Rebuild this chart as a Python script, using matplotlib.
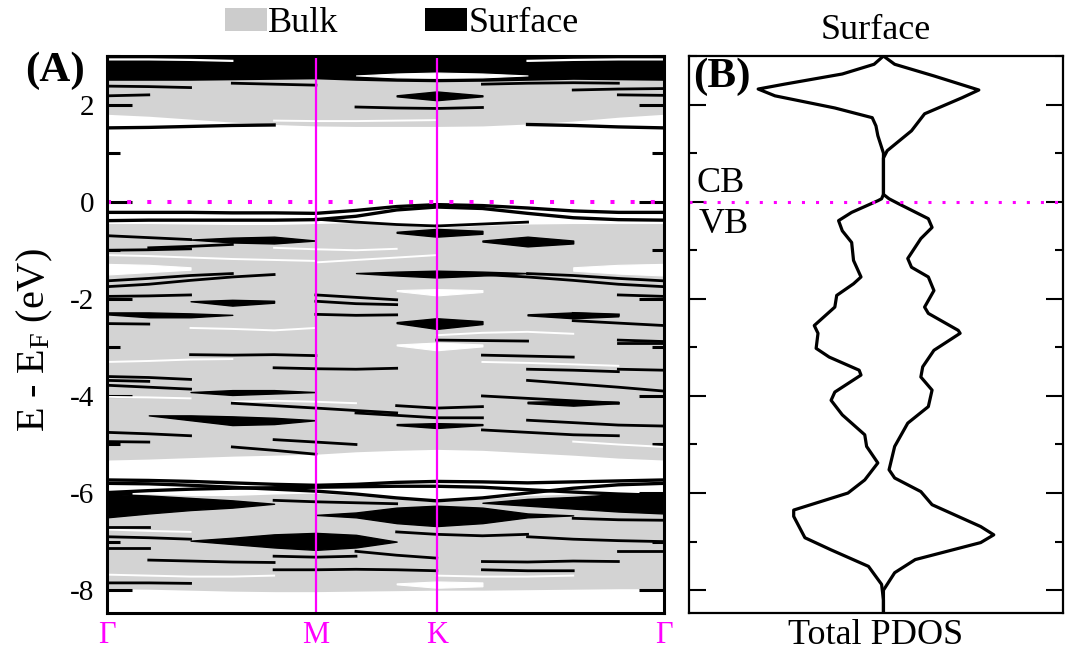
import numpy as np
import matplotlib
matplotlib.use('Agg')
import matplotlib.pyplot as plt
from matplotlib.patches import Patch
from matplotlib.ticker import MultipleLocator

plt.rcParams['font.family'] = ['Liberation Serif', 'DejaVu Serif']
plt.rcParams['mathtext.default'] = 'regular'

MAGENTA = '#ff00ff'
BULK_GRAY = '#d3d3d3'

# ---- band structure data (energies in eV) ----
# k positions of the sampled nodes along G-M-K-G (path scaled to 0..1)
k_nodes = [0.0, 0.075, 0.15, 0.225, 0.30, 0.375, 0.447, 0.52, 0.592, 0.674, 0.755, 0.837, 0.918, 1.0]
kpoint_pos = [0.0, 0.375, 0.592, 1.0]
kpoint_labels = ['Γ', 'M', 'K', 'Γ']

# bulk projected bands (gray areas)
bulk_cb_lo = [1.80, 1.76, 1.70, 1.64, 1.59, 1.56, 1.55, 1.55, 1.55, 1.56, 1.60, 1.66, 1.74, 1.80]
bulk_cb_hi = [3.1, 3.1, 3.1, 3.1, 3.1, 3.1, 3.1, 3.1, 3.1, 3.1, 3.1, 3.1, 3.1, 3.1]
bulk_vb_hi = [-0.45, -0.45, -0.46, -0.47, -0.47, -0.45, -0.43, -0.47, -0.53, -0.49, -0.46, -0.45, -0.45, -0.45]
bulk_vb_lo = [-5.32, -5.30, -5.27, -5.24, -5.22, -5.20, -5.15, -5.12, -5.10, -5.12, -5.17, -5.22, -5.28, -5.32]
bulk_deep_hi = [-6.00, -6.02, -6.05, -6.05, -6.02, -6.00, -6.05, -6.12, -6.18, -6.12, -6.05, -6.02, -6.00, -6.00]
bulk_deep_lo = [-7.97, -7.98, -8.00, -8.02, -8.03, -8.03, -8.02, -8.01, -8.00, -8.00, -7.99, -7.98, -7.97, -7.97]

# dense surface states at the top of the window
surf_top_lo = [2.50, 2.50, 2.50, 2.51, 2.52, 2.53, 2.50, 2.48, 2.47, 2.48, 2.50, 2.52, 2.51, 2.50]

# full-path surface bands
surf_cb_state = [1.52, 1.53, 1.55, 1.57, 1.58, np.nan, np.nan, np.nan, np.nan, np.nan, 1.59, 1.57, 1.54, 1.52]
surf_vb_1 = [-0.22, -0.22, -0.22, -0.23, -0.23, -0.24, -0.18, -0.10, -0.06, -0.08, -0.13, -0.19, -0.22, -0.22]
surf_vb_2 = [-0.39, -0.38, -0.38, -0.38, -0.38, -0.37, -0.30, -0.17, -0.11, -0.14, -0.24, -0.33, -0.37, -0.38]
surf_deep_1 = [-5.73, -5.74, -5.76, -5.79, -5.82, -5.84, -5.82, -5.78, -5.76, -5.77, -5.79, -5.77, -5.75, -5.73]
surf_deep_2 = [-5.99, -5.95, -5.92, -5.90, -5.89, -5.88, -5.87, -5.86, -5.86, -5.88, -5.93, -5.98, -6.02, -6.05]
surf_deep_3 = [-5.80, -5.81, -5.84, -5.88, -5.92, -5.96, -6.02, -6.10, -6.16, -6.10, -6.00, -5.90, -5.83, -5.80]

# short surface-band pieces: (first node, energies)
surf_pieces = [
    (0, [2.38, 2.37, 2.35]), (0, [2.18, 2.20]), (11, [2.30, 2.32, 2.33]), (12, [2.20, 2.19]),
    (3, [2.44, 2.42, 2.40]), (9, [2.42, 2.44, 2.45, 2.44]), (6, [1.95, 1.93, 1.92, 1.94]),
    (5, [-0.36, -0.42, -0.47, -0.50]), (8, [-0.50, -0.46, -0.42]),
    (0, [-0.70, -0.74, -0.78]), (0, [-1.00, -0.99, -0.97]), (1, [-0.95, -0.92, -0.88]),
    (0, [-1.63, -1.58, -1.52, -1.48]), (0, [-1.75, -1.70, -1.62, -1.55, -1.50]),
    (10, [-1.48, -1.52, -1.58, -1.63]), (9, [-1.50, -1.55, -1.62, -1.70, -1.75]),
    (0, [-1.95, -1.94, -1.92]), (12, [-1.92, -1.95]), (5, [-1.92, -1.97, -2.02]),
    (5, [-2.05, -2.10, -2.12]), (5, [-2.32, -2.34, -2.33]), (11, [-2.30, -2.33]), (0, [-2.51, -2.52]),
    (8, [-2.85, -2.86, -2.87]), (12, [-2.85, -2.88]),
    (2, [-3.15, -3.16, -3.15, -3.17]), (9, [-3.16, -3.18, -3.20]),
    (4, [-3.42, -3.44, -3.45, -3.43]), (10, [-3.45, -3.47, -3.50]), (12, [-3.45, -3.47]),
    (11, [-2.45, -2.50, -2.55]), (12, [-2.92, -2.92]),
    (0, [-3.60, -3.62, -3.66]), (0, [-3.68, -3.70]), (0, [-3.78, -3.82, -3.86]),
    (3, [-4.15, -4.20, -4.25, -4.30, -4.35]), (6, [-4.35, -4.40, -4.45, -4.45]), (7, [-4.20, -4.25, -4.22]),
    (9, [-4.00, -4.05, -4.10, -4.15]), (10, [-4.50, -4.55, -4.60, -4.62]),
    (0, [-4.75, -4.78, -4.82]), (4, [-4.90, -4.95, -5.00]),
    (10, [-3.68, -3.75, -3.82, -3.90]),
    (9, [-4.70, -4.75, -4.80, -4.82]), (0, [-4.94, -4.95]), (3, [-5.05, -5.12, -5.20]),
    (4, [-6.15, -6.18, -6.20, -6.22]), (7, [-6.80, -6.85, -6.88, -6.85]), (10, [-6.90, -6.95, -6.98, -7.00]),
    (0, [-6.90, -6.92, -6.95]), (4, [-7.30, -7.32, -7.30]), (0, [-7.85, -7.85, -7.86]),
    (11, [-6.52, -6.55, -6.56]), (0, [-6.70, -6.70]), (0, [-7.13, -7.13]), (12, [-7.20, -7.20]),
    (1, [-7.38, -7.40, -7.42, -7.43]), (6, [-7.20, -7.28, -7.34]),
    (9, [-7.41, -7.42, -7.40, -7.41]), (4, [-7.58, -7.58, -7.57, -7.58, -7.60]),
    (9, [-7.58, -7.60, -7.60]),
]

# dense surface-state patches: (first node, lower edge, upper edge)
surf_patches = [
    (7, [2.17, 2.09, 2.17], [2.19, 2.27, 2.19]),
    (7, [-0.64, -0.72, -0.66], [-0.62, -0.56, -0.60]),
    (2, [-0.78, -0.84, -0.86, -0.80], [-0.78, -0.74, -0.72, -0.80]),
    (9, [-0.82, -0.92, -0.86], [-0.80, -0.72, -0.80]),
    (6, [-1.47, -1.52, -1.56, -1.52, -1.47], [-1.47, -1.44, -1.42, -1.44, -1.47]),
    (2, [-2.05, -2.14, -2.08], [-2.05, -2.02, -2.04]),
    (0, [-2.32, -2.38, -2.38, -2.33], [-2.28, -2.28, -2.30, -2.33]),
    (7, [-2.50, -2.62, -2.52], [-2.48, -2.40, -2.46]),
    (10, [-2.34, -2.40, -2.36], [-2.32, -2.28, -2.32]),
    (2, [-3.92, -3.98, -3.95, -3.92], [-3.92, -3.88, -3.88, -3.92]),
    (1, [-4.40, -4.50, -4.60, -4.58, -4.50], [-4.40, -4.40, -4.42, -4.45, -4.50]),
    (7, [-4.60, -4.66, -4.60], [-4.58, -4.56, -4.58]),
    (10, [-4.15, -4.20, -4.15], [-4.12, -4.10, -4.12]),
    (0, [-6.50, -6.42, -6.35, -6.30, -6.22], [-6.02, -6.05, -6.10, -6.15, -6.22]),
    (9, [-6.20, -6.26, -6.32, -6.38, -6.42], [-6.20, -6.12, -6.08, -6.02, -5.99]),
    (5, [-6.45, -6.50, -6.62, -6.68, -6.62, -6.50, -6.46], [-6.45, -6.40, -6.30, -6.26, -6.30, -6.42, -6.46]),
    (2, [-6.98, -7.05, -7.12, -7.17, -7.12, -7.00], [-6.98, -6.92, -6.85, -6.82, -6.86, -7.00]),
]

# gaps inside the bulk continuum: lines and small lenses
gap_lines = [
    (0, [2.93, 2.93, 2.92, 2.90]), (10, [2.90, 2.92, 2.93, 2.93]),
    (4, [1.67, 1.66, 1.66, 1.67, 1.68]),
    (0, [-1.10, -1.12, -1.15, -1.18, -1.20, -1.22]), (5, [-1.25, -1.20, -1.15, -1.10]),
    (8, [-2.75, -2.70, -2.68, -2.72]), (2, [-2.60, -2.62, -2.65, -2.60]),
    (0, [-4.02, -4.03, -4.05]), (3, [-4.12, -4.10, -4.12, -4.15]), (11, [-4.94, -5.00, -5.05]),
    (0, [-3.30, -3.28, -3.25, -3.24]), (4, [-0.95, -0.98, -1.00, -0.97]), (9, [-3.30, -3.32, -3.35, -3.38]),
    (0, [-6.75, -6.78, -6.80]), (0, [-7.68, -7.70, -7.72, -7.72, -7.70]), (8, [-7.70, -7.72, -7.72, -7.70]),
]
gap_patches = [
    (6, [2.60, 2.56, 2.55, 2.56, 2.60], [2.60, 2.64, 2.66, 2.64, 2.60]),
    (7, [-1.84, -1.93, -1.86], [-1.82, -1.80, -1.82]),
    (7, [-2.96, -3.06, -2.98], [-2.94, -2.90, -2.94]),
    (0, [-1.50, -1.45, -1.40], [-1.28, -1.30, -1.35]),
    (11, [-1.42, -1.48, -1.52], [-1.35, -1.30, -1.28]),
    (7, [-7.88, -7.95, -7.92], [-7.86, -7.82, -7.84]),
]

# ---- surface PDOS (two mirrored branches) ----
pdos_left_e = [3.05, 3.00, 2.83, 2.63, 2.42, 2.32, 2.18, 1.93, 1.73, 1.56, 1.36, 1.00, 0.50, 0.15, 0.06, 0.02,
               -0.22, -0.39, -0.60, -0.84, -1.21, -1.55, -1.69, -1.93, -2.17, -2.55, -2.71, -3.02, -3.20, -3.47,
               -3.57, -3.92, -4.09, -4.39, -4.80, -5.04, -5.38, -5.73, -6.00, -6.35, -6.48, -6.92, -7.17, -7.51,
               -7.88, -8.20, -8.50]
pdos_left = [0.0, 0.0, -0.05, -0.22, -0.53, -0.67, -0.58, -0.26, -0.06, -0.04, -0.03, 0.0, 0.0, 0.0, -0.01, -0.03,
             -0.17, -0.24, -0.22, -0.17, -0.16, -0.12, -0.16, -0.25, -0.26, -0.37, -0.35, -0.36, -0.29, -0.13,
             -0.12, -0.26, -0.28, -0.22, -0.10, -0.09, -0.03, -0.10, -0.19, -0.48, -0.48, -0.42, -0.28, -0.08,
             -0.01, 0.0, 0.0]
pdos_right_e = [3.05, 3.00, 2.83, 2.59, 2.30, 2.14, 1.81, 1.46, 1.05, 0.90, 0.15, 0.06, -0.04, -0.35, -0.53,
                -0.76, -1.17, -1.35, -1.55, -1.83, -2.17, -2.30, -2.65, -2.71, -3.06, -3.40, -3.61, -3.88, -4.22,
                -4.56, -5.04, -5.52, -5.69, -5.97, -6.24, -6.69, -6.86, -7.02, -7.37, -7.64, -8.00, -8.50]
pdos_right = [0.0, 0.0, 0.06, 0.27, 0.51, 0.42, 0.22, 0.15, 0.02, 0.0, 0.0, 0.03, 0.08, 0.24, 0.26,
              0.20, 0.13, 0.15, 0.24, 0.27, 0.22, 0.24, 0.40, 0.41, 0.27, 0.21, 0.20, 0.26, 0.24,
              0.13, 0.06, 0.03, 0.06, 0.20, 0.26, 0.52, 0.59, 0.52, 0.17, 0.06, 0.0, 0.0]


def piece(start, n):
    return k_nodes[start:start + n]


fig = plt.figure(figsize=(10.71, 6.59), dpi=100)
ax1 = fig.add_axes([0.0999, 0.0698, 0.5201, 0.8452])
ax2 = fig.add_axes([0.6433, 0.0698, 0.3492, 0.8452])

# Panel A: bulk continuum
for lo, hi in [(bulk_cb_lo, bulk_cb_hi), (bulk_vb_lo, bulk_vb_hi), (bulk_deep_lo, bulk_deep_hi)]:
    ax1.fill_between(k_nodes, lo, hi, color=BULK_GRAY, lw=0, zorder=1)
for start, lo, hi in gap_patches[1:]:
    ax1.fill_between(piece(start, len(lo)), lo, hi, color='white', lw=0.8, zorder=2)
for start, vals in gap_lines[2:]:
    ax1.plot(piece(start, len(vals)), vals, color='white', lw=1.4, zorder=2)

# surface states
ax1.fill_between(k_nodes, surf_top_lo, bulk_cb_hi, color='black', lw=0, zorder=3)
for start, lo, hi in surf_patches:
    ax1.fill_between(piece(start, len(lo)), lo, hi, color='black', edgecolor='black', lw=1.0, zorder=3)
for band in [surf_cb_state, surf_vb_1, surf_vb_2, surf_deep_1, surf_deep_2, surf_deep_3]:
    ax1.plot(k_nodes, band, color='black', lw=2.4, zorder=3)
for start, vals in surf_pieces:
    ax1.plot(piece(start, len(vals)), vals, color='black', lw=2.0, zorder=3)
start, lo, hi = gap_patches[0]
ax1.fill_between(piece(start, len(lo)), lo, hi, color='white', lw=0.8, zorder=3.5)
for start, vals in gap_lines[:2]:
    ax1.plot(piece(start, len(vals)), vals, color='white', lw=1.6, zorder=3.5)

for kp in kpoint_pos[1:-1]:
    ax1.axvline(kp, color=MAGENTA, lw=1.6, zorder=4)
ax1.axhline(0, color=MAGENTA, lw=2.9, ls=(0, (1, 4)), zorder=5)

ax1.set_xlim(0, 1)
ax1.set_ylim(-8.47, 3.0)
ax1.set_xticks(kpoint_pos)
ax1.set_xticklabels(kpoint_labels, color=MAGENTA, fontsize=22)
ax1.tick_params(axis='x', length=0, pad=6)
ax1.set_yticks([-8, -6, -4, -2, 0, 2])
ax1.set_yticklabels(['-8', '-6', '-4', '-2', '0', '2'])
ax1.yaxis.set_minor_locator(MultipleLocator(1))
ax1.tick_params(axis='y', which='major', direction='in', left=True, right=True, length=18, width=2.2,
                labelsize=21, pad=9)
ax1.tick_params(axis='y', which='minor', direction='in', left=True, right=True, length=9, width=2.2)
for sp in ax1.spines.values():
    sp.set_linewidth(2.2)
    sp.set_zorder(6)
ax1.set_ylabel('E - E$_F$ (eV)', fontsize=29)
ax1.yaxis.set_label_coords(-0.093, 0.49)

# Panel B: surface PDOS
ax2.plot(pdos_left, pdos_left_e, color='black', lw=2.3, solid_joinstyle='round')
ax2.plot(pdos_right, pdos_right_e, color='black', lw=2.3, solid_joinstyle='round')
ax2.axhline(0, color=MAGENTA, lw=2.2, ls=(0, (1, 3.6)))
ax2.set_xlim(-1.04, 0.96)
ax2.set_ylim(-8.47, 3.0)
ax2.set_xticks([])
ax2.set_yticks([-8, -6, -4, -2, 0, 2])
ax2.set_yticklabels([])
ax2.yaxis.set_minor_locator(MultipleLocator(1))
ax2.tick_params(axis='y', which='major', direction='in', left=True, right=True, length=12, width=1.5)
ax2.tick_params(axis='y', which='minor', direction='in', left=True, right=True, length=6, width=1.5)
for sp in ax2.spines.values():
    sp.set_linewidth(1.6)
ax2.set_title('Surface', fontsize=26, pad=12)
ax2.set_xlabel('Total PDOS', fontsize=26, labelpad=4)
ax2.text(-1.0, 0.2, 'CB', fontsize=26, va='baseline', ha='left')
ax2.text(-0.99, -0.14, 'VB', fontsize=26, va='top', ha='left')
ax2.text(0.012, 0.998, '(B)', transform=ax2.transAxes, fontsize=31, fontweight='bold', va='top', ha='left')

fig.text(25 / 1071, 1 - 52 / 659, '(A)', fontsize=31, fontweight='bold', va='top', ha='left')

handles = [Patch(facecolor='#cccccc', edgecolor='none', label='Bulk'),
           Patch(facecolor='black', edgecolor='none', label='Surface')]
fig.legend(handles=handles, ncol=2, frameon=False, fontsize=26, handlelength=1.15, handleheight=0.6,
           handletextpad=0.05, columnspacing=2.4, loc='center', bbox_to_anchor=(402 / 1071, 1 - 24 / 659),
           borderpad=0, borderaxespad=0)

fig.savefig('out.png', dpi=100)
